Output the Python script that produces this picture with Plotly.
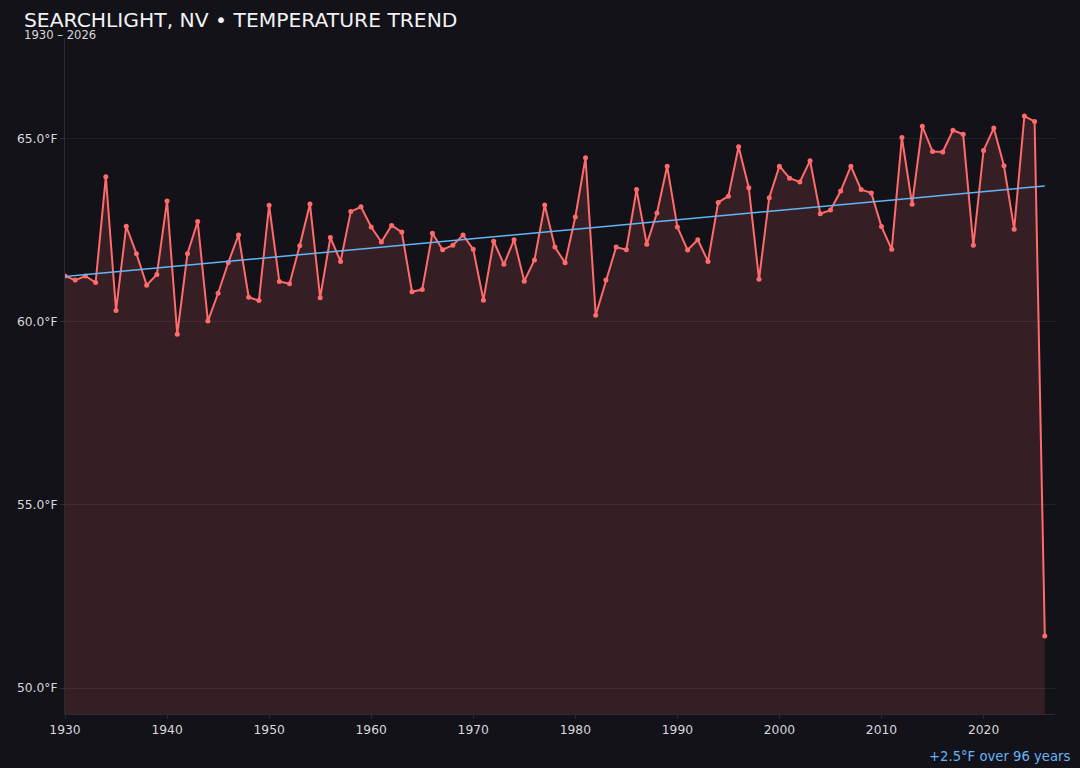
import plotly.graph_objects as go

# annual mean temperature, Searchlight NV
years = list(range(1930, 2027))
temps_f = [
    61.25, 61.14, 61.25, 61.07, 63.96, 60.31, 62.61, 61.86, 61.00, 61.29,  # 1930s
    63.30, 59.66, 61.86, 62.74, 60.02, 60.78, 61.62, 62.37, 60.67, 60.58,  # 1940s
    63.18, 61.10, 61.04, 62.08, 63.22, 60.66, 62.30, 61.65, 63.01, 63.14,  # 1950s
    62.59, 62.18, 62.63, 62.45, 60.82, 60.88, 62.42, 61.97, 62.09, 62.37,  # 1960s
    61.98, 60.59, 62.20, 61.57, 62.24, 61.11, 61.69, 63.19, 62.04, 61.61,  # 1970s
    62.86, 64.48, 60.18, 61.14, 62.04, 61.97, 63.61, 62.12, 62.97, 64.25,  # 1980s
    62.59, 61.96, 62.24, 61.65, 63.26, 63.43, 64.78, 63.66, 61.16, 63.39,  # 1990s
    64.25, 63.92, 63.82, 64.40, 62.95, 63.05, 63.57, 64.25, 63.61, 63.52,  # 2000s
    62.60, 61.98, 65.03, 63.21, 65.34, 64.65, 64.64, 65.23, 65.12, 62.09,  # 2010s
    64.68, 65.29, 64.26, 62.53, 65.62, 65.47, 51.42,                      # 2020s
]

# trend line end points
trend_years = [1930, 2026]
trend_temps = [61.24, 63.71]
trend_label = "+2.5°F over 96 years"

BG = "#131218"
RED = "#ff6b6b"
BLUE = "#64b5f6"
GRID = "#221f27"
AXIS = "#2c2a32"
TEXT = "#d8d8de"

lo, hi = min(temps_f), max(temps_f)
pad = (hi - lo) * 0.15

fig = go.Figure()
fig.add_scatter(
    x=years,
    y=temps_f,
    mode="lines+markers",
    line=dict(color=RED, width=2),
    marker=dict(color=RED, size=5),
    fill="tozeroy",
    fillcolor="rgba(255,107,107,0.15)",
    hovertemplate="%{x}: %{y:.1f}°F<extra></extra>",
)
fig.add_scatter(
    x=trend_years,
    y=trend_temps,
    mode="lines",
    line=dict(color=BLUE, width=1.5),
    hoverinfo="skip",
)

fig.update_layout(
    width=1080,
    height=768,
    paper_bgcolor=BG,
    plot_bgcolor=BG,
    showlegend=False,
    font=dict(family="DejaVu Sans", color=TEXT, size=12.3),
    margin=dict(l=65, r=25, t=38, b=54),
    title=dict(
        text="SEARCHLIGHT, NV • TEMPERATURE TREND",
        x=24 / 1080,
        xref="container",
        xanchor="left",
        y=1 - 20 / 768,
        yref="container",
        yanchor="middle",
        font=dict(size=20.3, color="#f2f2f5"),
    ),
    annotations=[
        dict(
            text="1930 – 2026",
            xref="paper", yref="paper",
            x=-43 / 990, y=1.005,
            xanchor="left", yanchor="middle",
            showarrow=False,
            font=dict(size=11.6, color=TEXT),
        ),
        dict(
            text=trend_label,
            xref="paper", yref="paper",
            x=1 + 17 / 990, y=0,
            yshift=-42,
            xanchor="right", yanchor="middle",
            showarrow=False,
            font=dict(size=13.2, color=BLUE),
        ),
    ],
)
fig.update_xaxes(
    range=[1930, 2027],
    dtick=10,
    tick0=1930,
    showgrid=False,
    showline=True,
    linecolor=AXIS,
    ticks="outside",
    ticklen=4,
    tickcolor=AXIS,
    zeroline=False,
)
fig.update_yaxes(
    range=[lo - pad, hi + pad],
    dtick=5,
    tick0=50,
    tickformat=".1f",
    ticksuffix="°F",
    showgrid=True,
    gridcolor=GRID,
    showline=True,
    linecolor=AXIS,
    ticks="outside",
    ticklen=4,
    tickcolor=AXIS,
    zeroline=False,
)

# drop the default body margin so the figure fills the window
fig.write_html(
    "out.html",
    config={"displayModeBar": False},
    post_script="document.body.style.margin='0';"
    "document.body.style.overflow='hidden';"
    f"document.body.style.background='{BG}';",
)
